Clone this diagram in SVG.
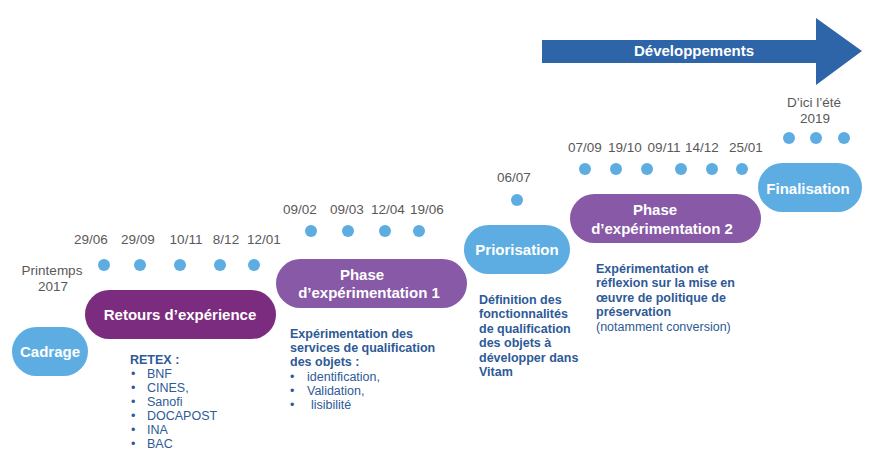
<svg xmlns="http://www.w3.org/2000/svg" width="880" height="457" viewBox="0 0 880 457">
<style>
text{font-family:"Liberation Sans",Arial,sans-serif}
.lbl{fill:#fff;font-weight:bold;font-size:15px;text-anchor:middle}
.date{fill:#595959;font-size:13.5px;text-anchor:middle}
.desc{fill:#2E5A97;font-size:12.5px}
.b{font-weight:bold}
.dot{fill:#5DADE2}
.lb{fill:#5DADE2}
.dp{fill:#7B2C7E}
.mp{fill:#8759A6}
</style>
<rect width="880" height="457" fill="#fff"/>
<g id="arrow">
<path d="M542,40 H816 V18 L862,51 L816,85 V63 H542 Z" fill="#2E64A8"/>
<text x="694" y="56" class="lbl">Développements</text>
</g>
<g id="connectors"></g>
<g id="cadrage"><rect x="12" y="327" width="76" height="49" rx="24.5" class="lb"/><text x="50" y="357" class="lbl" font-size="16">Cadrage</text></g>
<g id="retours"><rect x="85" y="290" width="191" height="49" rx="24.5" class="dp"/><text x="180" y="320" class="lbl">Retours d’expérience</text></g>
<g id="phase1"><rect x="276" y="259" width="191" height="49" rx="24.5" class="mp"/><text x="362" y="280" class="lbl">Phase</text><text x="369" y="298" class="lbl">d’expérimentation 1</text></g>
<g id="priorisation"><rect x="464" y="225" width="106" height="49" rx="24.5" class="lb"/><text x="517" y="255" class="lbl">Priorisation</text></g>
<g id="phase2"><rect x="570" y="194" width="191" height="49" rx="24.5" class="mp"/><text x="655" y="215" class="lbl">Phase</text><text x="662" y="234" class="lbl">d’expérimentation 2</text></g>
<g id="finalisation"><rect x="758" y="163" width="104" height="49" rx="24.5" class="lb"/><text x="808" y="194" class="lbl">Finalisation</text></g>
<g id="dots">
<circle cx="104" cy="265" r="6" class="dot"/><circle cx="140" cy="265" r="6" class="dot"/><circle cx="180" cy="265" r="6" class="dot"/><circle cx="220" cy="265" r="6" class="dot"/><circle cx="254" cy="265" r="6" class="dot"/>
<circle cx="311" cy="231" r="6" class="dot"/><circle cx="348" cy="231" r="6" class="dot"/><circle cx="385" cy="231" r="6" class="dot"/><circle cx="419" cy="231" r="6" class="dot"/>
<circle cx="517" cy="200" r="6" class="dot"/>
<circle cx="585" cy="169" r="6" class="dot"/><circle cx="616" cy="169" r="6" class="dot"/><circle cx="647" cy="169" r="6" class="dot"/><circle cx="681" cy="169" r="6" class="dot"/><circle cx="712" cy="169" r="6" class="dot"/><circle cx="742" cy="169" r="6" class="dot"/>
<circle cx="789" cy="138" r="6" class="dot"/><circle cx="816" cy="138" r="6" class="dot"/><circle cx="844" cy="138" r="6" class="dot"/>
</g>
<g id="dates">
<text x="52" y="275" class="date">Printemps</text><text x="53" y="291" class="date">2017</text>
<text x="91" y="244" class="date">29/06</text><text x="138" y="244" class="date">29/09</text><text x="186" y="244" class="date">10/11</text><text x="226" y="244" class="date">8/12</text><text x="264" y="244" class="date">12/01</text>
<text x="300" y="214" class="date">09/02</text><text x="347" y="214" class="date">09/03</text><text x="388" y="214" class="date">12/04</text><text x="427" y="214" class="date">19/06</text>
<text x="514" y="182" class="date">06/07</text>
<text x="585" y="152" class="date">07/09</text><text x="625" y="152" class="date">19/10</text><text x="664" y="152" class="date">09/11</text><text x="702" y="152" class="date">14/12</text><text x="746" y="152" class="date">25/01</text>
<text x="814" y="107" class="date">D’ici l’été</text><text x="815" y="123" class="date">2019</text>
</g>
<g id="retex" class="desc">
<text x="130" y="364" class="b">RETEX :</text>
<g font-size="12.5"><text x="131" y="378">•</text><text x="147" y="378">BNF</text>
<text x="131" y="392">•</text><text x="147" y="392">CINES,</text>
<text x="131" y="406">•</text><text x="147" y="406">Sanofi</text>
<text x="131" y="420">•</text><text x="147" y="420">DOCAPOST</text>
<text x="131" y="434">•</text><text x="147" y="434">INA</text>
<text x="131" y="448">•</text><text x="147" y="448">BAC</text></g>
</g>
<g id="desc1" class="desc">
<text x="290" y="338" class="b">Expérimentation des</text>
<text x="290" y="352" class="b">services de qualification</text>
<text x="290" y="366" class="b">des objets :</text>
<text x="290" y="381">•</text><text x="307" y="381">identification,</text>
<text x="290" y="395">•</text><text x="307" y="395">Validation,</text>
<text x="290" y="409">•</text><text x="311" y="409">lisibilité</text>
</g>
<g id="desc2" class="desc b">
<text x="479" y="304" class="b">Définition des</text>
<text x="479" y="318" class="b">fonctionnalités</text>
<text x="479" y="333" class="b">de qualification</text>
<text x="479" y="347" class="b">des objets à</text>
<text x="479" y="362" class="b">développer dans</text>
<text x="479" y="376" class="b">Vitam</text>
</g>
<g id="desc3" class="desc">
<text x="596" y="273" class="b">Expérimentation et</text>
<text x="596" y="287" class="b">réflexion sur la mise en</text>
<text x="596" y="302" class="b">œuvre de politique de</text>
<text x="596" y="316" class="b">préservation</text>
<text x="596" y="331">(notamment conversion)</text>
</g>
</svg>
